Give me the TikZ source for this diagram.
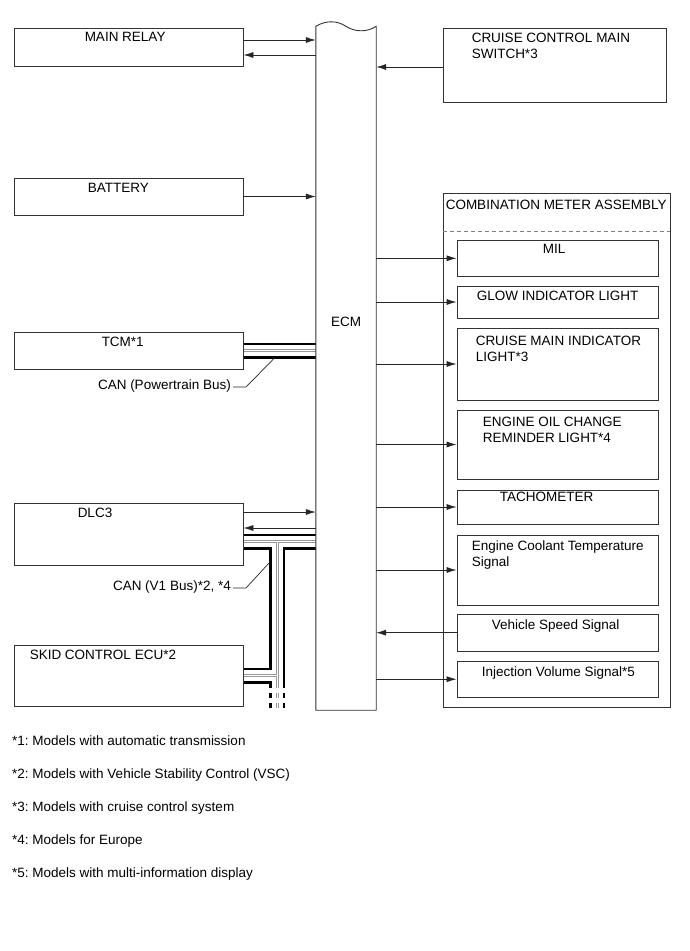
\documentclass[tikz,border=0pt]{standalone}
\usepackage{fontspec}
\setmainfont{Liberation Sans}
\usetikzlibrary{arrows.meta, positioning}
\pgfdeclarelayer{background}
\pgfsetlayers{background,main}
\frenchspacing

\begin{document}
\begin{tikzpicture}[
    x=1pt, y=-1pt,
    unit/.style={rectangle, draw=black!80, line width=0.9pt, inner sep=0pt},
    tag/.style={inner sep=0pt, align=left, font=\fontsize{13.5pt}{16pt}\selectfont},
    sig/.style={-{Latex[length=10pt, width=6pt]}, draw=black!85, line width=0.7pt},
    lead/.style={draw=black!85, line width=0.7pt},
    busblack/.style={draw=black, line width=16pt},
    buswhite/.style={draw=white, line width=11.5pt},
    busgrey/.style={draw=black!40, line width=0.7pt, double=white, double distance=1.8pt}
]
\begin{pgfonlayer}{background}
\fill [white] (0,0) rectangle (690,951);
\end{pgfonlayer}
\useasboundingbox (0,0) rectangle (690,951);

\node (relay) [unit, minimum width=229pt, minimum height=38pt] at (128.5,47.5) {};
\node (battery) [unit, minimum width=229pt, minimum height=37pt] at (128.5,196.5) {};
\node (tcm) [unit, minimum width=229pt, minimum height=37pt] at (128.5,350.5) {};
\node (dlc) [unit, minimum width=229pt, minimum height=62pt] at (128.5,534) {};
\node (skid) [unit, minimum width=229pt, minimum height=61pt] at (128.5,675.5) {};
\node (cruise) [unit, minimum width=223pt, minimum height=74pt] at (554.5,65) {};
\node (meter) [unit, minimum width=227pt, minimum height=514.5pt] at (556.5,450.25) {};
\node (mil) [unit, minimum width=201pt, minimum height=36.7pt] at (557.5,258.3) {};
\node (glow) [unit, minimum width=201pt, minimum height=32pt] at (557.5,302) {};
\node (cruiseled) [unit, minimum width=201pt, minimum height=72pt] at (557.5,364) {};
\node (oil) [unit, minimum width=201pt, minimum height=69pt] at (557.5,444.5) {};
\node (tacho) [unit, minimum width=201pt, minimum height=34pt] at (557.5,507) {};
\node (coolant) [unit, minimum width=201pt, minimum height=70pt] at (557.5,570) {};
\node (speed) [unit, minimum width=201pt, minimum height=36.7pt] at (557.5,632.7) {};
\node (inject) [unit, minimum width=201pt, minimum height=36.3pt] at (557.5,679.2) {};
\node (ecm) [inner sep=0pt, minimum width=60pt, minimum height=683.5pt] at (346,368.25) {};

\draw [draw=black!80, line width=0.9pt] (ecm.north west) .. controls +(10,-6) and +(-9,-6) .. (ecm.north)
    .. controls +(9,6) and +(-9,6) .. (ecm.north east) -- (ecm.south east) -- (ecm.south west) -- cycle;
\draw [draw=black!50, line width=0.7pt, dash pattern=on 4pt off 3pt] ([yshift=-38.5pt]meter.north west) -- ([yshift=-38.5pt]meter.north east);

\node (ecmname) [tag] at (346,322) {ECM};
\node (relaytxt) [tag, below right=4pt and 71pt of relay.north west] {MAIN RELAY};
\node (batterytxt) [tag, below right=5.3pt and 74pt of battery.north west] {BATTERY};
\node (tcmtxt) [tag, below right=5.3pt and 88pt of tcm.north west] {TCM*1};
\node (dlctxt) [tag, below right=5.3pt and 64pt of dlc.north west] {DLC3};
\node (skidtxt) [tag, below right=5.3pt and 16pt of skid.north west] {SKID CONTROL ECU*2};
\node (cruisetxt) [tag, below right=5pt and 29pt of cruise.north west] {CRUISE CONTROL MAIN\\SWITCH*3};
\node (metertxt) [tag, below right=7pt and 3pt of meter.north west] {COMBINATION METER ASSEMBLY};
\node (miltxt) [tag, below right=4.3pt and 86pt of mil.north west] {MIL};
\node (glowtxt) [tag, below right=5.3pt and 20pt of glow.north west] {GLOW INDICATOR LIGHT};
\node (cruiseledtxt) [tag, below right=8.3pt and 19pt of cruiseled.north west] {CRUISE MAIN INDICATOR\\LIGHT*3};
\node (oiltxt) [tag, below right=7.3pt and 26pt of oil.north west] {ENGINE OIL CHANGE\\REMINDER LIGHT*4};
\node (tachotxt) [tag, below right=2.3pt and 43pt of tacho.north west] {TACHOMETER};
\node (coolanttxt) [tag, below right=6.3pt and 15pt of coolant.north west] {Engine Coolant Temperature\\Signal};
\node (speedtxt) [tag, below right=5.7pt and 35pt of speed.north west] {Vehicle Speed Signal};
\node (injecttxt) [tag, below right=5.7pt and 25pt of inject.north west] {Injection Volume Signal*5};

\draw [sig] ([yshift=7.5pt]relay.east) -- ([yshift=7.5pt]relay.east -| ecm.west);
\draw [sig] ([yshift=-7.5pt]relay.east -| ecm.west) -- ([yshift=-7.5pt]relay.east);
\draw [sig] ([yshift=-2pt]cruise.west) -- ([yshift=-2pt]cruise.west -| ecm.east);
\draw [sig] (battery.east) -- (battery.east -| ecm.west);
\draw [sig] ([yshift=22pt]dlc.east) -- ([yshift=22pt]dlc.east -| ecm.west);
\draw [sig] ([yshift=6pt]dlc.east -| ecm.west) -- ([yshift=6pt]dlc.east);
\draw [sig] (mil.west -| ecm.east) -- (mil.west);
\draw [sig] (glow.west -| ecm.east) -- (glow.west);
\draw [sig] (cruiseled.west -| ecm.east) -- (cruiseled.west);
\draw [sig] (oil.west -| ecm.east) -- (oil.west);
\draw [sig] (tacho.west -| ecm.east) -- (tacho.west);
\draw [sig] (coolant.west -| ecm.east) -- (coolant.west);
\draw [sig] (speed.west) -- (speed.west -| ecm.east);
\draw [sig] (inject.west -| ecm.east) -- (inject.west);

\coordinate (dlcbus) at ([yshift=-7.5pt]dlc.east);
\coordinate (tee) at ([xshift=34pt]dlcbus);
\coordinate (skidtee) at (tee |- skid.east);
\coordinate (busend) at ([yshift=-12.5pt]skidtee);
\coordinate (busgap) at ([yshift=-17.5pt]skidtee);
\coordinate (busstub) at ([yshift=-32.5pt]skidtee);
\begin{pgfonlayer}{background}
\foreach \layer in {busblack, buswhite, busgrey} {
  \draw [\layer] (tcm.east) -- (tcm.east -| ecm.west)
    (dlcbus) -- (dlcbus -| ecm.west)
    (tee) -- (busend)
    (skid.east) -- (skidtee);
  \draw [\layer, dash pattern=on 5pt off 5pt] (busgap) -- (busstub);
}
\end{pgfonlayer}

\node (canpt) [tag, anchor=east] at (231,386) {CAN (Powertrain Bus)};
\coordinate (canptend) at ([xshift=31pt, yshift=-7.5pt]tcm.east);
\draw [lead] ([xshift=2pt, yshift=-1pt]canpt.east) -- ++(13pt,0pt) -- (canptend);
\node (canv1) [tag, anchor=east] at (231,587) {CAN (V1 Bus)*2, *4};
\coordinate (canv1end) at ([xshift=-7pt, yshift=-20pt]tee);
\draw [lead] ([xshift=2pt, yshift=-1pt]canv1.east) -- ++(13pt,0pt) -- (canv1end);

\node (note1) [tag, anchor=base west] at (12,745.5) {*1: Models with automatic transmission};
\node (note2) [tag, anchor=base west] at (12,778.5) {*2: Models with Vehicle Stability Control (VSC)};
\node (note3) [tag, anchor=base west] at (12,811.5) {*3: Models with cruise control system};
\node (note4) [tag, anchor=base west] at (12,844.5) {*4: Models for Europe};
\node (note5) [tag, anchor=base west] at (12,877.5) {*5: Models with multi-information display};
\end{tikzpicture}
\end{document}
